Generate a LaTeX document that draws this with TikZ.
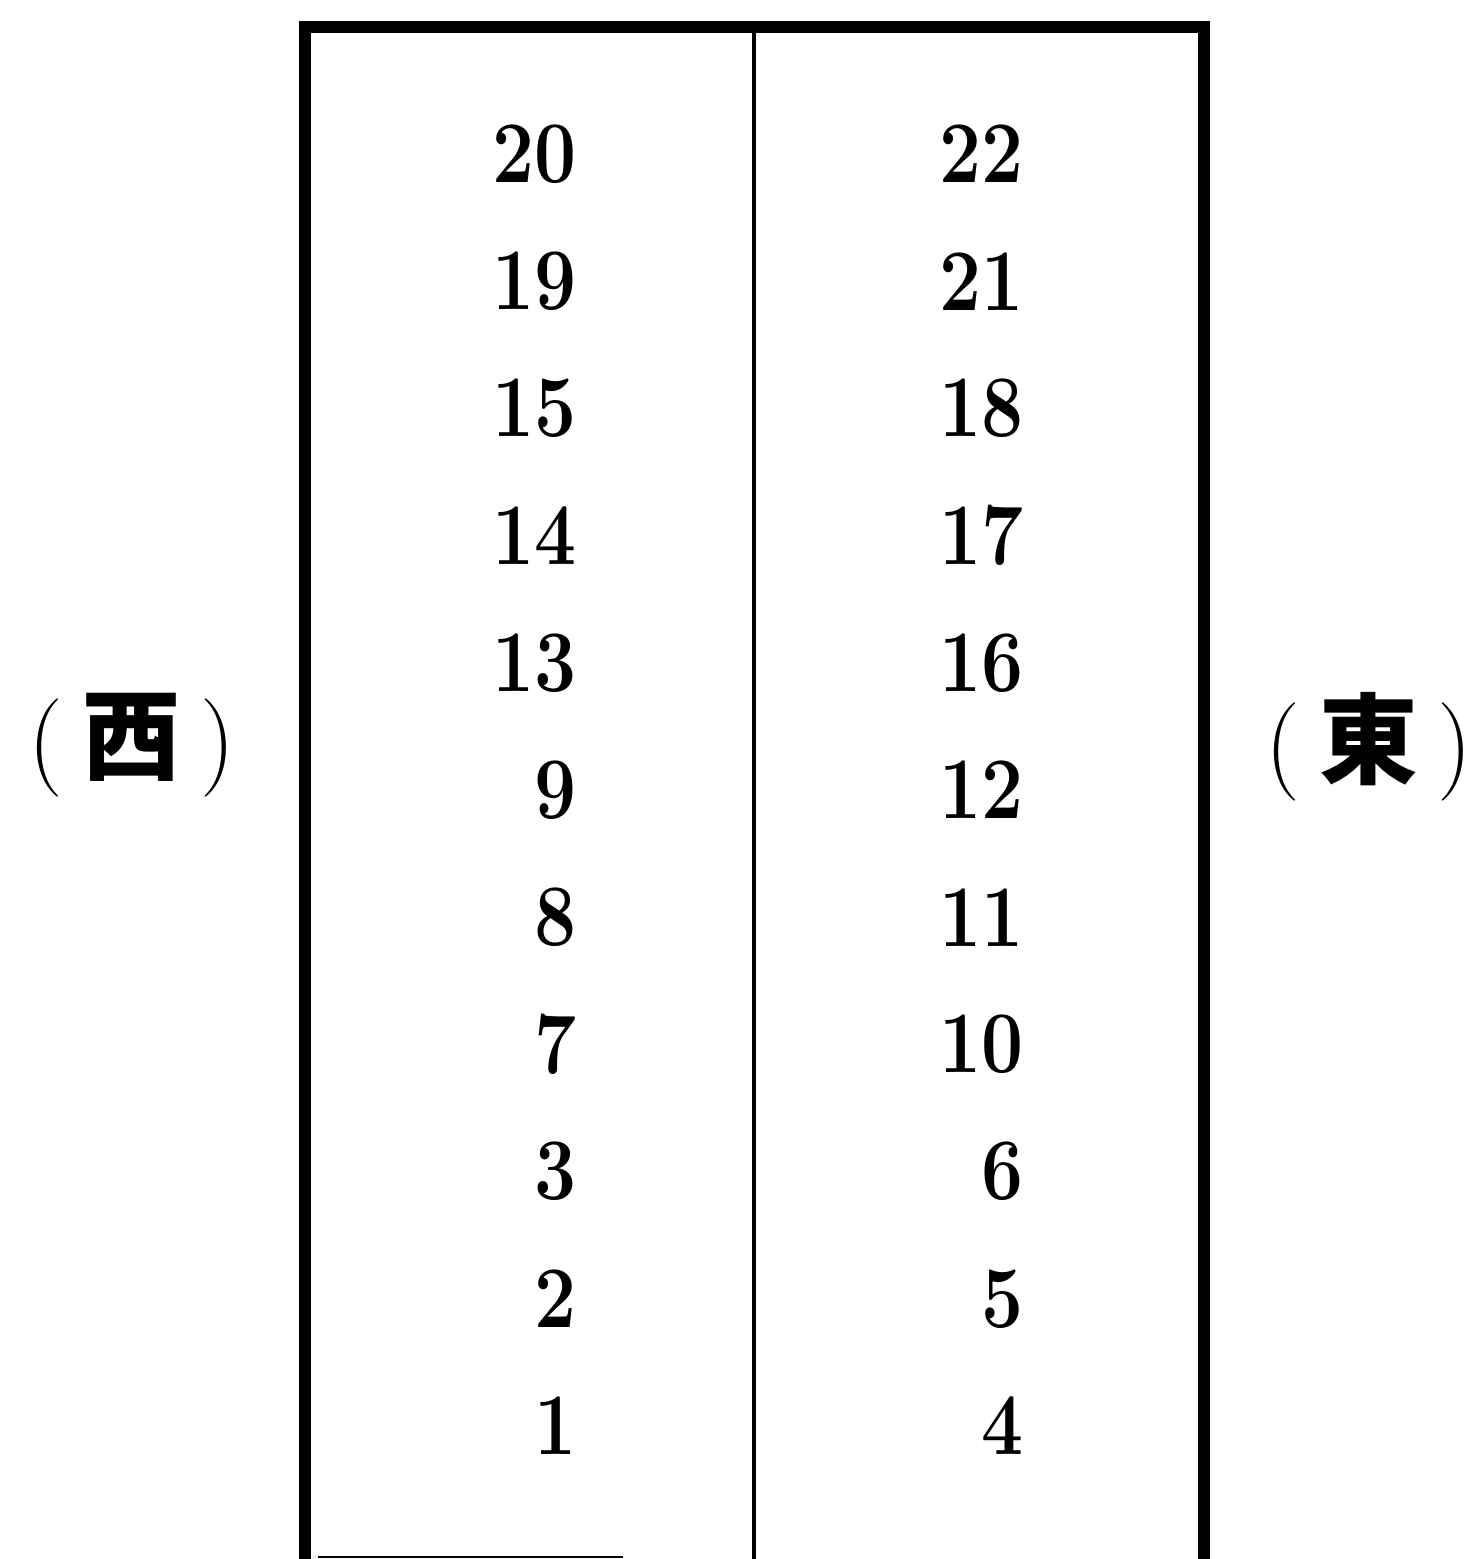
\documentclass[tikz,border=0pt]{standalone}
\usepackage{graphicx}
\usepackage{fontspec}
\newfontfamily\cjk{Noto Sans CJK JP}
\tikzset{
  num/.style={anchor=east, inner sep=0pt, font=\fontsize{25}{30}\selectfont\bfseries},
  side/.style={inner sep=0pt, font=\fontsize{28}{32}\selectfont},
}
\begin{document}
\begin{tikzpicture}
\useasboundingbox (0,0) rectangle (14.68,15.59);
% frame, open at the bottom
\draw[line width=3.4pt] (3.05,-0.2) -- (3.05,15.32) -- (12.04,15.32) -- (12.04,-0.2);
\draw[line width=0.9pt] (7.54,15.32) -- (7.54,-0.2);
\draw[line width=0.8pt] (3.18,0.02) -- (6.23,0.02);
% numbers
\foreach \l/\r [count=\k from 0] in {20/22,19/21,15/18,14/17,13/16,9/12,8/11,7/10,3/6,2/5,1/4}
{
  \node[num] (w\k) at (5.77,14.05-1.272*\k) {\scalebox{0.85}[1]{\l}};
  \node[num] (e\k) at (10.24,14.05-1.272*\k) {\scalebox{0.85}[1]{\r}};
}
% sides
\node[side] (west) at (1.32,8.14) {(\hspace{0.2em}{\cjk\bfseries 西}\hspace{0.2em})};
\node[side] (east) at (13.69,8.12) {(\hspace{0.2em}{\cjk\bfseries 東}\hspace{0.2em})};
\end{tikzpicture}
\end{document}
